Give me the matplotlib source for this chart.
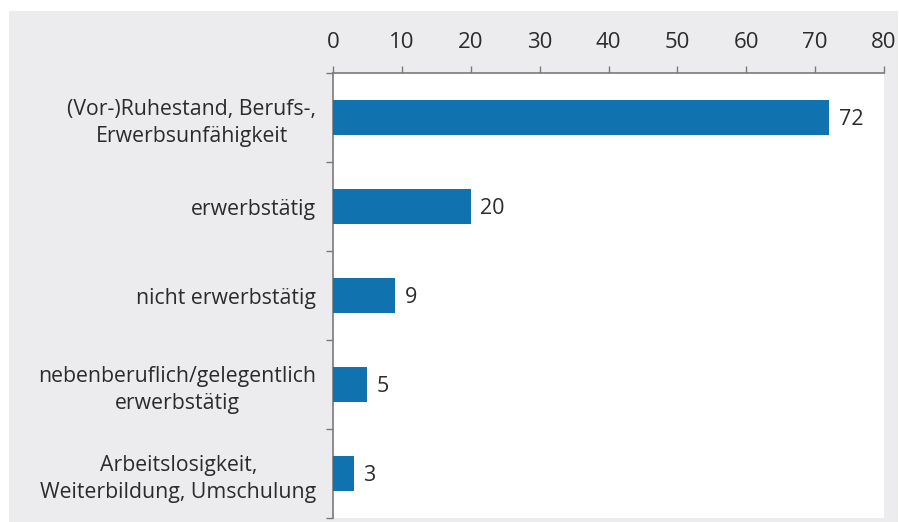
import matplotlib.pyplot as plt
from matplotlib.patches import Rectangle
import numpy as np

# data
categories = [
    "(Vor-)Ruhestand, Berufs-,\nErwerbsunfähigkeit",
    "erwerbstätig",
    "nicht erwerbstätig",
    "nebenberuflich/gelegentlich\nerwerbstätig",
    "Arbeitslosigkeit,\nWeiterbildung, Umschulung",
]
values = [72, 20, 9, 5, 3]
x_ticks = [0, 10, 20, 30, 40, 50, 60, 70, 80]

BAR_COLOR = "#1172b0"
TEXT_COLOR = "#2b2b2b"
AXIS_COLOR = "#7a7a7a"
PANEL_COLOR = "#ececee"

plt.rcParams["font.family"] = ["Open Sans", "DejaVu Sans"]

fig = plt.figure(figsize=(8.99, 5.22), dpi=100, facecolor="white")
W, H = 899, 522

# gray panel behind the chart
fig.add_artist(Rectangle((9 / W, 0), (898 - 9) / W, (522 - 11) / H,
                         transform=fig.transFigure, facecolor=PANEL_COLOR,
                         edgecolor="none", zorder=-10))

ax = fig.add_axes([333 / W, 4 / H, (884 - 333) / W, (518 - 73) / H])
ax.set_facecolor("white")

y = np.arange(len(categories))
ax.barh(y, values, height=0.4, color=BAR_COLOR, zorder=3)

for yi, v in zip(y, values):
    ax.text(v + 1.4, yi + 0.02, str(v), va="center", ha="left", fontsize=15.5,
            color=TEXT_COLOR)

ax.set_xlim(0, 80)
ax.set_ylim(len(categories) - 0.5, -0.5)

ax.xaxis.tick_top()
ax.set_xticks(x_ticks)
ax.set_xticklabels([str(t) for t in x_ticks])
ax.tick_params(axis="x", direction="out", length=5, width=1, color=AXIS_COLOR,
               labelsize=16, labelcolor=TEXT_COLOR, pad=9.5)

ax.set_yticks(y)
ax.set_yticklabels(categories, fontsize=15.3, color=TEXT_COLOR, linespacing=1.35)
for lbl in ax.get_yticklabels():
    lbl.set_horizontalalignment("right")
    lbl.set_multialignment("center")
ax.tick_params(axis="y", which="major", length=0, pad=12)
ax.set_yticks(np.arange(len(categories) + 1) - 0.5, minor=True)
ax.tick_params(axis="y", which="minor", direction="out", length=5, width=1,
               color=AXIS_COLOR)

for side in ["right", "bottom"]:
    ax.spines[side].set_visible(False)
for side in ["left", "top"]:
    ax.spines[side].set_color(AXIS_COLOR)
    ax.spines[side].set_linewidth(1.2)

fig.savefig("out.png", dpi=100, facecolor="white")
